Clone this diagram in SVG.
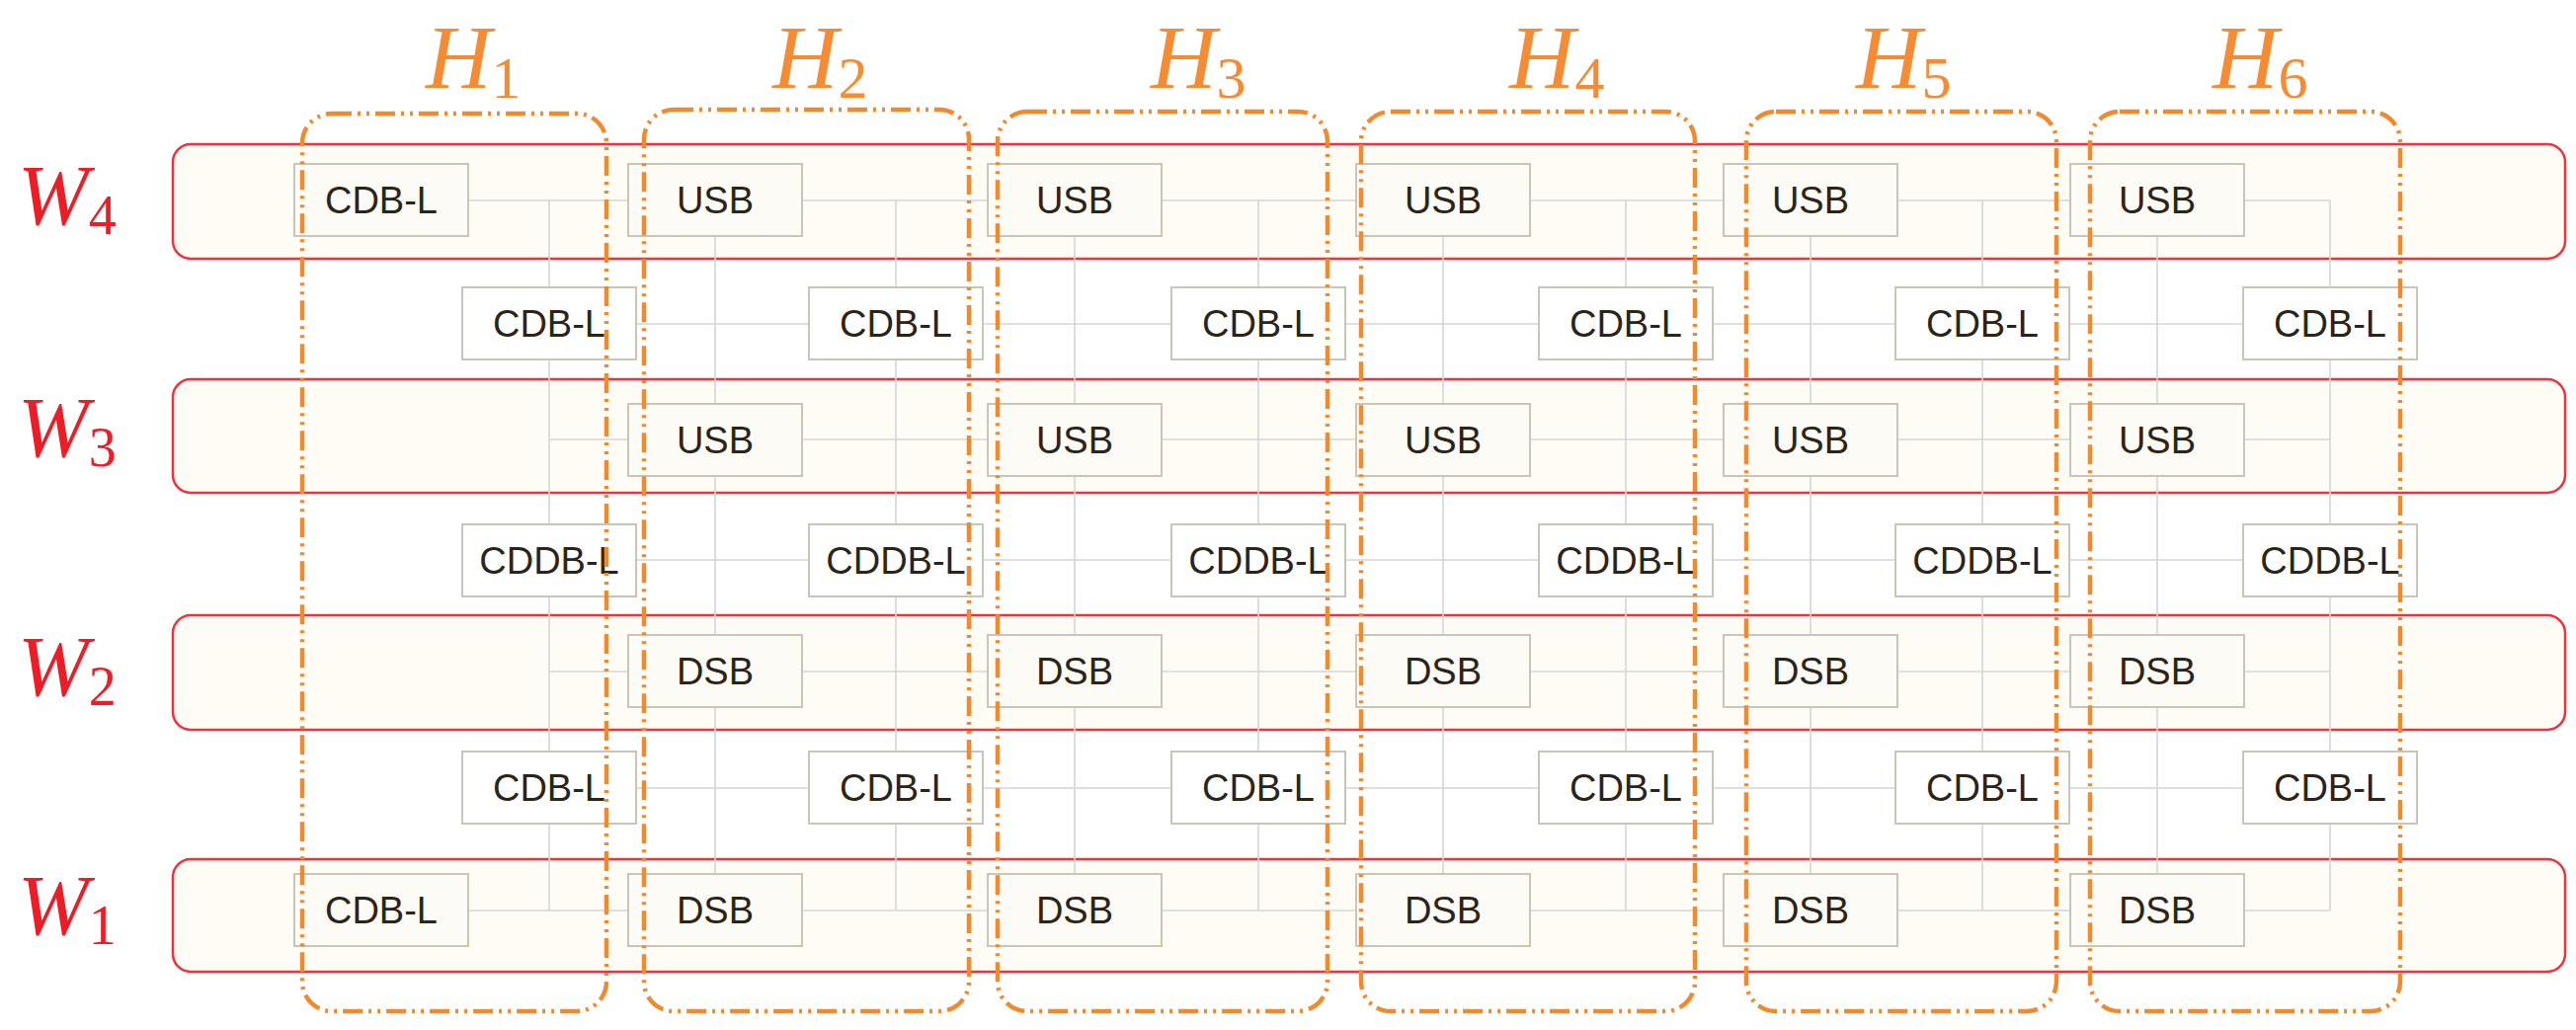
<svg xmlns="http://www.w3.org/2000/svg" width="2608" height="1043" viewBox="0 0 2608 1043">
<style>
.band{fill:#fffcf5;stroke:#f0323c;stroke-width:2.5}
.c{stroke:#d3d6d6;stroke-width:1.6;fill:none}
.n rect{stroke:#cbc5b8;stroke-width:2;fill:#fdfbf6}
.n.o rect{fill:#ffffff}
.n text{font-family:"Liberation Sans",Arial,sans-serif;font-size:38px;fill:#2b2418;text-anchor:middle}
.h{fill:none;stroke:#f08a2c;stroke-width:4.5;stroke-dasharray:20 6 3 6 3 6}
.wl{font-family:"Liberation Serif","Times New Roman",serif;fill:#ee1c25}
.hl{font-family:"Liberation Serif","Times New Roman",serif;fill:#f58b32}
</style>
<rect width="2608" height="1043" fill="#fff"/>
<g id="bands">
<rect class="band" x="175" y="146" width="2422" height="116" rx="18"/>
<rect class="band" x="175" y="384" width="2422" height="115" rx="18"/>
<rect class="band" x="175" y="623" width="2422" height="116" rx="18"/>
<rect class="band" x="175" y="870" width="2422" height="114" rx="18"/>
</g>
<g id="connectors">
<path class="c" d="M386 203H2359M556 328H2359M556 445H2359M556 567H2359M556 680H2359M556 798H2359M386 922H2359"/>
<path class="c" d="M724 203V922M1088 203V922M1461 203V922M1833 203V922M2184 203V922M556 203V922M907 203V922M1274 203V922M1646 203V922M2007 203V922M2359 203V922"/>
</g>
<g id="nodes">
<g id="h1w4" class="n"><rect x="298" y="166" width="176" height="73"/><text x="386" y="216">CDB-L</text></g>
<g id="h1c3" class="n o"><rect x="468" y="291" width="176" height="73"/><text x="556" y="341">CDB-L</text></g>
<g id="h1c2" class="n o"><rect x="468" y="531" width="176" height="73"/><text x="556" y="581">CDDB-L</text></g>
<g id="h1c1" class="n o"><rect x="468" y="761" width="176" height="73"/><text x="556" y="811">CDB-L</text></g>
<g id="h1w1" class="n"><rect x="298" y="885" width="176" height="73"/><text x="386" y="935">CDB-L</text></g>

<g id="h2w4" class="n"><rect x="636" y="166" width="176" height="73"/><text x="724" y="216">USB</text></g>
<g id="h2w3" class="n"><rect x="636" y="409" width="176" height="73"/><text x="724" y="459">USB</text></g>
<g id="h2w2" class="n"><rect x="636" y="643" width="176" height="73"/><text x="724" y="693">DSB</text></g>
<g id="h2w1" class="n"><rect x="636" y="885" width="176" height="73"/><text x="724" y="935">DSB</text></g>
<g id="h2c3" class="n o"><rect x="819" y="291" width="176" height="73"/><text x="907" y="341">CDB-L</text></g>
<g id="h2c2" class="n o"><rect x="819" y="531" width="176" height="73"/><text x="907" y="581">CDDB-L</text></g>
<g id="h2c1" class="n o"><rect x="819" y="761" width="176" height="73"/><text x="907" y="811">CDB-L</text></g>

<g id="h3w4" class="n"><rect x="1000" y="166" width="176" height="73"/><text x="1088" y="216">USB</text></g>
<g id="h3w3" class="n"><rect x="1000" y="409" width="176" height="73"/><text x="1088" y="459">USB</text></g>
<g id="h3w2" class="n"><rect x="1000" y="643" width="176" height="73"/><text x="1088" y="693">DSB</text></g>
<g id="h3w1" class="n"><rect x="1000" y="885" width="176" height="73"/><text x="1088" y="935">DSB</text></g>
<g id="h3c3" class="n o"><rect x="1186" y="291" width="176" height="73"/><text x="1274" y="341">CDB-L</text></g>
<g id="h3c2" class="n o"><rect x="1186" y="531" width="176" height="73"/><text x="1274" y="581">CDDB-L</text></g>
<g id="h3c1" class="n o"><rect x="1186" y="761" width="176" height="73"/><text x="1274" y="811">CDB-L</text></g>

<g id="h4w4" class="n"><rect x="1373" y="166" width="176" height="73"/><text x="1461" y="216">USB</text></g>
<g id="h4w3" class="n"><rect x="1373" y="409" width="176" height="73"/><text x="1461" y="459">USB</text></g>
<g id="h4w2" class="n"><rect x="1373" y="643" width="176" height="73"/><text x="1461" y="693">DSB</text></g>
<g id="h4w1" class="n"><rect x="1373" y="885" width="176" height="73"/><text x="1461" y="935">DSB</text></g>
<g id="h4c3" class="n o"><rect x="1558" y="291" width="176" height="73"/><text x="1646" y="341">CDB-L</text></g>
<g id="h4c2" class="n o"><rect x="1558" y="531" width="176" height="73"/><text x="1646" y="581">CDDB-L</text></g>
<g id="h4c1" class="n o"><rect x="1558" y="761" width="176" height="73"/><text x="1646" y="811">CDB-L</text></g>

<g id="h5w4" class="n"><rect x="1745" y="166" width="176" height="73"/><text x="1833" y="216">USB</text></g>
<g id="h5w3" class="n"><rect x="1745" y="409" width="176" height="73"/><text x="1833" y="459">USB</text></g>
<g id="h5w2" class="n"><rect x="1745" y="643" width="176" height="73"/><text x="1833" y="693">DSB</text></g>
<g id="h5w1" class="n"><rect x="1745" y="885" width="176" height="73"/><text x="1833" y="935">DSB</text></g>
<g id="h5c3" class="n o"><rect x="1919" y="291" width="176" height="73"/><text x="2007" y="341">CDB-L</text></g>
<g id="h5c2" class="n o"><rect x="1919" y="531" width="176" height="73"/><text x="2007" y="581">CDDB-L</text></g>
<g id="h5c1" class="n o"><rect x="1919" y="761" width="176" height="73"/><text x="2007" y="811">CDB-L</text></g>

<g id="h6w4" class="n"><rect x="2096" y="166" width="176" height="73"/><text x="2184" y="216">USB</text></g>
<g id="h6w3" class="n"><rect x="2096" y="409" width="176" height="73"/><text x="2184" y="459">USB</text></g>
<g id="h6w2" class="n"><rect x="2096" y="643" width="176" height="73"/><text x="2184" y="693">DSB</text></g>
<g id="h6w1" class="n"><rect x="2096" y="885" width="176" height="73"/><text x="2184" y="935">DSB</text></g>
<g id="h6c3" class="n o"><rect x="2271" y="291" width="176" height="73"/><text x="2359" y="341">CDB-L</text></g>
<g id="h6c2" class="n o"><rect x="2271" y="531" width="176" height="73"/><text x="2359" y="581">CDDB-L</text></g>
<g id="h6c1" class="n o"><rect x="2271" y="761" width="176" height="73"/><text x="2359" y="811">CDB-L</text></g>
</g>
<g id="groups">
<rect class="h" x="306" y="115" width="308" height="909" rx="30" stroke="#dc7620"/>
<rect class="h" x="652" y="111" width="329" height="913" rx="30"/>
<rect class="h" x="1010" y="113" width="334" height="911" rx="30"/>
<rect class="h" x="1378" y="113" width="338" height="911" rx="30"/>
<rect class="h" x="1768" y="113" width="314" height="911" rx="30"/>
<rect class="h" x="2127" y="113" width="314" height="911" rx="30" transform="translate(-11 0)"/>
</g>
<g id="labels">
<text class="wl" x="18" y="227" font-size="86" font-style="italic">W<tspan font-size="56" font-style="normal" dy="10">4</tspan></text>
<text class="wl" x="18" y="462" font-size="86" font-style="italic">W<tspan font-size="56" font-style="normal" dy="10">3</tspan></text>
<text class="wl" x="18" y="704" font-size="86" font-style="italic">W<tspan font-size="56" font-style="normal" dy="10">2</tspan></text>
<text class="wl" x="18" y="946" font-size="86" font-style="italic">W<tspan font-size="56" font-style="normal" dy="10">1</tspan></text>
<text class="hl" x="431" y="89" font-size="92" font-style="italic">H<tspan font-size="60" font-style="normal" dy="10">1</tspan></text>
<text class="hl" x="782" y="89" font-size="92" font-style="italic">H<tspan font-size="60" font-style="normal" dy="10">2</tspan></text>
<text class="hl" x="1165" y="89" font-size="92" font-style="italic">H<tspan font-size="60" font-style="normal" dy="10">3</tspan></text>
<text class="hl" x="1528" y="89" font-size="92" font-style="italic">H<tspan font-size="60" font-style="normal" dy="10">4</tspan></text>
<text class="hl" x="1879" y="89" font-size="92" font-style="italic">H<tspan font-size="60" font-style="normal" dy="10">5</tspan></text>
<text class="hl" x="2240" y="89" font-size="92" font-style="italic">H<tspan font-size="60" font-style="normal" dy="10">6</tspan></text>
</g>
</svg>
